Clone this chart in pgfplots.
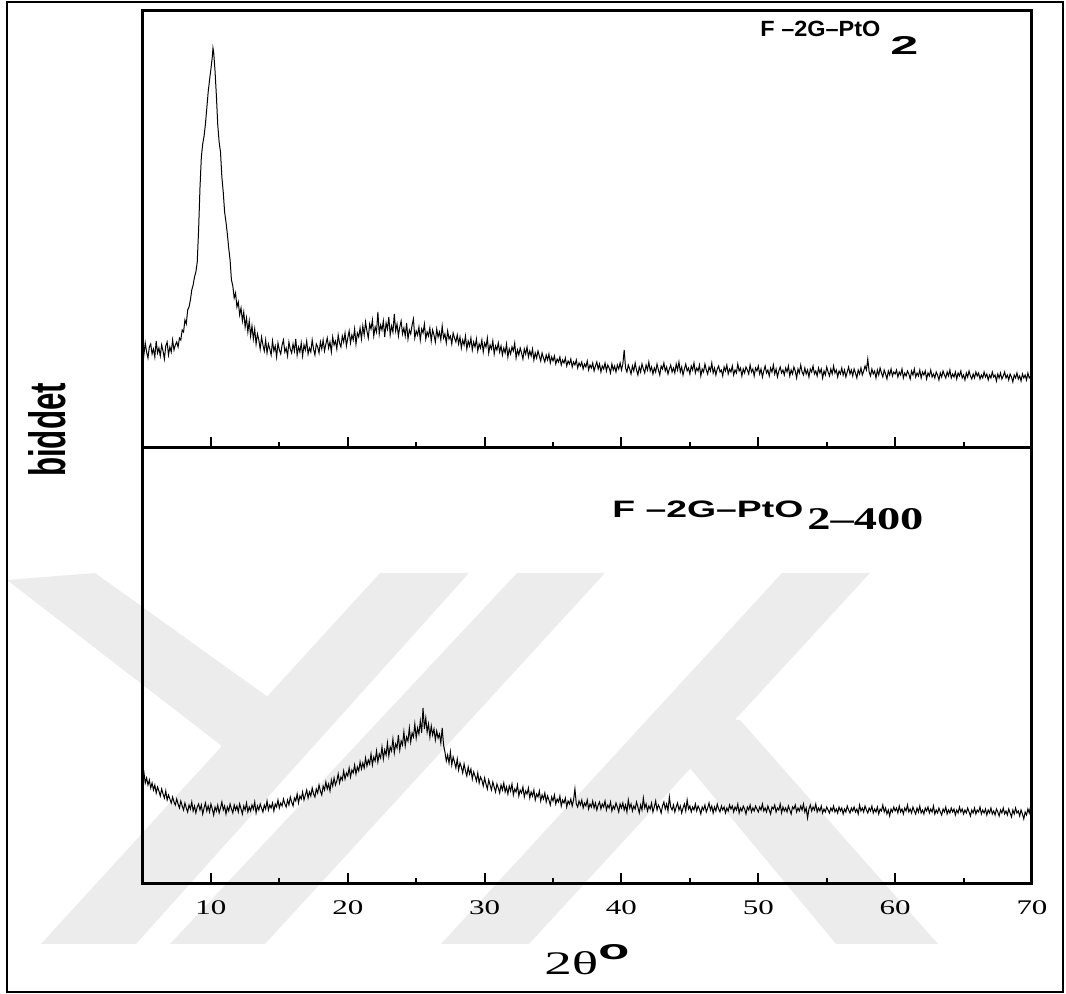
\documentclass[border=0pt]{standalone}
\usepackage{pgfplots}
\pgfplotsset{compat=1.18}
\usepackage{graphicx}
\usepackage{fontspec}
\setmainfont{Liberation Serif}
\newfontfamily\arial{Liberation Sans}
\definecolor{wm}{gray}{0.925}
\pgfplotsset{myax/.style={
  scale only axis, width=444.75pt, xmin=5, xmax=70, ymin=0,
  axis line style={line width=1.5pt},
  ytick=\empty, tick align=inside, xtick pos=bottom,
  major tick length=5.5pt, minor tick length=3pt,
  tick style={black, line width=1pt},
  minor xtick={15,25,...,65},
  /pgf/number format/assume math mode=true,
  anchor=south west}}
\begin{document}
\begin{tikzpicture}
\useasboundingbox (0,0) rectangle (533pt,497pt);
% watermark (background)
\begin{scope}[x=0.5pt,y=-0.5pt,shift={(0pt,497pt)}]
\fill[wm] (7,580) -- (95,573) -- (300,720) -- (240,760) -- cycle;
\fill[wm] (380,573) -- (469,573) -- (136,944) -- (41,944) -- cycle;
\fill[wm] (517,573) -- (605,573) -- (265,944) -- (170,944) -- cycle;
\fill[wm] (782,573) -- (870,573) -- (529,944) -- (441,944) -- cycle;
\fill[wm] (650,720) -- (740,720) -- (938,944) -- (836,944) -- cycle;
\end{scope}
\draw[line width=1pt] (3.5pt,1pt) rectangle (531.5pt,496pt);
% top panel
\begin{axis}[myax, at={(71.25pt,273pt)}, height=218.5pt, ymax=437,
  xtick={10,20,...,60}, xticklabels={}]
\addplot[black, line width=0.5pt] coordinates {
(5.0,102) (5.1,93) (5.2,105) (5.3,96) (5.4,90) (5.5,101) (5.6,104) (5.7,94) (5.8,99) (5.9,91)
(6.0,107) (6.1,95) (6.2,100) (6.3,92) (6.4,103) (6.5,97) (6.6,89) (6.7,102) (6.8,106) (6.9,93)
(7.0,101) (7.1,96) (7.2,108) (7.3,98) (7.4,103) (7.5,106) (7.6,101) (7.7,110) (7.8,108) (7.9,118)
(8.0,116) (8.1,128) (8.2,124) (8.3,138) (8.4,141) (8.5,148) (8.6,158) (8.7,163) (8.8,171) (8.9,176)
(9.0,186) (9.1,218) (9.2,260) (9.3,291) (9.4,304) (9.5,312) (9.6,324) (9.7,340) (9.8,356) (9.9,368)
(10.0,379) (10.1,391) (10.15,400) (10.2,396) (10.3,377) (10.4,352) (10.5,323) (10.6,306) (10.7,296) (10.8,271)
(10.9,256) (11.0,236) (11.1,226) (11.2,214) (11.3,200) (11.4,188) (11.5,168) (11.6,162) (11.7,150) (11.8,155)
(11.9,141) (12.0,146) (12.1,133) (12.2,140) (12.3,127) (12.4,136) (12.5,121) (12.6,130) (12.7,116) (12.8,127)
(12.9,112) (13.0,122) (13.1,109) (13.2,119) (13.3,104) (13.4,114) (13.5,108) (13.6,99) (13.7,111) (13.8,103)
(13.9,97) (14.0,108) (14.1,95) (14.2,104) (14.3,99) (14.4,93) (14.5,107) (14.6,97) (14.7,102) (14.8,91)
(14.9,105) (15.0,98) (15.1,94) (15.2,103) (15.3,108) (15.4,96) (15.5,100) (15.6,92) (15.7,106) (15.8,99)
(15.9,95) (16.0,104) (16.1,97) (16.2,109) (16.3,93) (16.4,101) (16.5,96) (16.6,105) (16.7,92) (16.8,103)
(16.9,98) (17.0,107) (17.1,94) (17.2,100) (17.3,96) (17.4,108) (17.5,99) (17.6,93) (17.7,104) (17.8,101)
(17.9,95) (18.0,106) (18.1,99) (18.2,108) (18.3,97) (18.4,104) (18.5,110) (18.6,100) (18.7,106) (18.8,96)
(18.9,111) (19.0,103) (19.1,107) (19.2,99) (19.3,113) (19.4,105) (19.5,101) (19.6,112) (19.7,106) (19.8,115)
(19.9,102) (20.0,110) (20.1,117) (20.2,105) (20.3,113) (20.4,108) (20.5,119) (20.6,104) (20.7,115) (20.8,111)
(20.9,120) (21.0,109) (21.1,122) (21.2,113) (21.3,126) (21.4,117) (21.5,110) (21.6,124) (21.7,119) (21.8,128)
(21.9,112) (22.0,121) (22.1,116) (22.2,136) (22.3,114) (22.4,123) (22.5,118) (22.6,127) (22.7,111) (22.8,125)
(22.9,119) (23.0,131) (23.1,113) (23.2,122) (23.3,116) (23.4,134) (23.5,117) (23.6,124) (23.7,112) (23.8,121)
(23.9,127) (24.0,114) (24.1,120) (24.2,112) (24.3,125) (24.4,109) (24.5,118) (24.6,114) (24.7,123) (24.8,129)
(24.9,110) (25.0,117) (25.1,113) (25.2,121) (25.3,108) (25.4,119) (25.5,115) (25.6,124) (25.7,109) (25.8,116)
(25.9,112) (26.0,120) (26.1,107) (26.2,118) (26.3,113) (26.4,106) (26.5,119) (26.6,111) (26.7,116) (26.8,108)
(26.9,122) (27.0,110) (27.1,114) (27.2,105) (27.3,117) (27.4,109) (27.5,112) (27.6,104) (27.7,115) (27.8,110)
(27.9,106) (28.0,113) (28.1,104) (28.2,111) (28.3,100) (28.4,108) (28.5,103) (28.6,112) (28.7,99) (28.8,107)
(28.9,102) (29.0,110) (29.1,98) (29.2,106) (29.3,101) (29.4,109) (29.5,97) (29.6,104) (29.7,100) (29.8,108)
(29.9,96) (30.0,105) (30.1,101) (30.2,110) (30.3,95) (30.4,103) (30.5,99) (30.6,107) (30.7,94) (30.8,102)
(30.9,98) (31.0,105) (31.1,96) (31.2,102) (31.3,93) (31.4,100) (31.5,95) (31.6,104) (31.7,91) (31.8,99)
(31.9,94) (32.0,101) (32.1,97) (32.2,105) (32.3,90) (32.4,98) (32.5,93) (32.6,100) (32.7,95) (32.8,89)
(32.9,99) (33.0,94) (33.1,101) (33.2,91) (33.3,97) (33.4,92) (33.5,99) (33.6,88) (33.7,95) (33.8,90)
(33.9,97) (34.0,92) (34.1,87) (34.2,95) (34.3,90) (34.4,86) (34.5,93) (34.6,88) (34.7,94) (34.8,85)
(34.9,91) (35.0,87) (35.1,92) (35.2,84) (35.3,89) (35.4,86) (35.5,91) (35.6,83) (35.7,88) (35.8,85)
(35.9,90) (36.0,82) (36.1,87) (36.2,84) (36.3,89) (36.4,81) (36.5,86) (36.6,83) (36.7,88) (36.8,80)
(36.9,85) (37.0,82) (37.1,86) (37.2,79) (37.3,84) (37.4,81) (37.5,87) (37.6,78) (37.7,83) (37.8,80)
(37.9,85) (38.0,77) (38.1,82) (38.2,86) (38.3,79) (38.4,84) (38.5,76) (38.6,82) (38.7,79) (38.8,85)
(38.9,77) (39.0,83) (39.1,80) (39.2,75) (39.3,84) (39.4,78) (39.5,82) (39.6,76) (39.7,83) (39.8,79)
(39.9,85) (40.0,78) (40.1,84) (40.2,98) (40.3,80) (40.4,76) (40.5,83) (40.6,79) (40.7,74) (40.8,82)
(40.9,77) (41.0,85) (41.1,78) (41.2,73) (41.3,81) (41.4,76) (41.5,84) (41.6,79) (41.7,75) (41.8,83)
(41.9,78) (42.0,86) (42.1,77) (42.2,81) (42.3,74) (42.4,80) (42.5,76) (42.6,84) (42.7,78) (42.8,73)
(42.9,82) (43.0,79) (43.1,85) (43.2,77) (43.3,81) (43.4,74) (43.5,79) (43.6,83) (43.7,76) (43.8,80)
(43.9,75) (44.0,84) (44.1,78) (44.2,86) (44.3,76) (44.4,81) (44.5,73) (44.6,79) (44.7,84) (44.8,77)
(44.9,80) (45.0,74) (45.1,82) (45.2,78) (45.3,85) (45.4,75) (45.5,80) (45.6,77) (45.7,83) (45.8,72)
(45.9,79) (46.0,76) (46.1,84) (46.2,78) (46.3,74) (46.4,81) (46.5,77) (46.6,85) (46.7,75) (46.8,80)
(46.9,73) (47.0,79) (47.1,82) (47.2,76) (47.3,78) (47.4,72) (47.5,81) (47.6,77) (47.7,83) (47.8,74)
(47.9,79) (48.0,76) (48.1,82) (48.2,73) (48.3,78) (48.4,75) (48.5,84) (48.6,77) (48.7,80) (48.8,72)
(48.9,79) (49.0,75) (49.1,81) (49.2,78) (49.3,74) (49.4,83) (49.5,76) (49.6,79) (49.7,72) (49.8,80)
(49.9,77) (50.0,82) (50.1,74) (50.2,79) (50.3,71) (50.4,77) (50.5,82) (50.6,75) (50.7,78) (50.8,72)
(50.9,80) (51.0,76) (51.1,83) (51.2,74) (51.3,79) (51.4,71) (51.5,77) (51.6,81) (51.7,75) (51.8,78)
(51.9,73) (52.0,80) (52.1,76) (52.2,82) (52.3,72) (52.4,78) (52.5,74) (52.6,81) (52.7,77) (52.8,70)
(52.9,79) (53.0,75) (53.1,83) (53.2,76) (53.3,73) (53.4,80) (53.5,74) (53.6,78) (53.7,71) (53.8,79)
(53.9,76) (54.0,82) (54.1,74) (54.2,77) (54.3,72) (54.4,80) (54.5,75) (54.6,79) (54.7,70) (54.8,77)
(54.9,73) (55.0,81) (55.1,76) (55.2,72) (55.3,79) (55.4,74) (55.5,82) (55.6,75) (55.7,78) (55.8,71)
(55.9,77) (56.0,74) (56.1,80) (56.2,73) (56.3,78) (56.4,71) (56.5,76) (56.6,81) (56.7,74) (56.8,78)
(56.9,72) (57.0,79) (57.1,75) (57.2,70) (57.3,78) (57.4,74) (57.5,80) (57.6,73) (57.7,77) (57.8,82)
(57.9,78) (58.0,89) (58.1,76) (58.2,72) (58.3,79) (58.4,74) (58.5,77) (58.6,70) (58.7,78) (58.8,73)
(58.9,80) (59.0,75) (59.1,71) (59.2,78) (59.3,74) (59.4,69) (59.5,77) (59.6,73) (59.7,79) (59.8,72)
(59.9,76) (60.0,74) (60.1,78) (60.2,71) (60.3,76) (60.4,73) (60.5,79) (60.6,70) (60.7,75) (60.8,72)
(60.9,77) (61.0,74) (61.1,69) (61.2,77) (61.3,73) (61.4,79) (61.5,71) (61.6,75) (61.7,72) (61.8,78)
(61.9,70) (62.0,76) (62.1,73) (62.2,77) (62.3,69) (62.4,75) (62.5,72) (62.6,78) (62.7,71) (62.8,74)
(62.9,70) (63.0,76) (63.1,73) (63.2,68) (63.3,75) (63.4,71) (63.5,77) (63.6,73) (63.7,70) (63.8,76)
(63.9,72) (64.0,78) (64.1,70) (64.2,74) (64.3,71) (64.4,76) (64.5,69) (64.6,75) (64.7,72) (64.8,77)
(64.9,70) (65.0,73) (65.1,68) (65.2,75) (65.3,71) (65.4,77) (65.5,72) (65.6,69) (65.7,74) (65.8,70)
(65.9,76) (66.0,72) (66.1,75) (66.2,69) (66.3,73) (66.4,70) (66.5,76) (66.6,71) (66.7,74) (66.8,68)
(66.9,73) (67.0,70) (67.1,76) (67.2,71) (67.3,73) (67.4,67) (67.5,74) (67.6,70) (67.7,75) (67.8,69)
(67.9,72) (68.0,76) (68.1,70) (68.2,73) (68.3,68) (68.4,74) (68.5,71) (68.6,66) (68.7,73) (68.8,70)
(68.9,75) (69.0,69) (69.1,72) (69.2,67) (69.3,74) (69.4,70) (69.5,73) (69.6,68) (69.7,75) (69.8,70)
(69.9,72) (70.0,74)
};
\end{axis}
% bottom panel
\begin{axis}[myax, at={(71.25pt,55pt)}, height=218pt, ymax=436,
  xtick={10,20,...,70},
  xticklabel={\scalebox{1.49}[1]{\pgfmathprintnumber{\tick}}},
  xticklabel style={font=\fontsize{10.4pt}{12pt}\selectfont, anchor=base, inner sep=0pt, yshift=-15.5pt}]
\addplot[black, line width=0.5pt] coordinates {
(5.0,108) (5.1,112) (5.2,101) (5.3,106) (5.4,99) (5.5,104) (5.6,96) (5.7,101) (5.8,94) (5.9,99)
(6.0,91) (6.1,97) (6.2,93) (6.3,88) (6.4,95) (6.5,90) (6.6,86) (6.7,93) (6.8,84) (6.9,89)
(7.0,85) (7.1,81) (7.2,87) (7.3,82) (7.4,79) (7.5,85) (7.6,80) (7.7,76) (7.8,83) (7.9,78)
(8.0,74) (8.1,81) (8.2,76) (8.3,72) (8.4,79) (8.5,75) (8.6,82) (8.7,73) (8.8,78) (8.9,71)
(9.0,77) (9.1,80) (9.2,74) (9.3,79) (9.4,70) (9.5,76) (9.6,81) (9.7,73) (9.8,78) (9.9,72)
(10.0,80) (10.1,75) (10.2,69) (10.3,77) (10.4,73) (10.5,79) (10.6,71) (10.7,76) (10.8,82) (10.9,74)
(11.0,78) (11.1,70) (11.2,77) (11.3,73) (11.4,80) (11.5,75) (11.6,71) (11.7,79) (11.8,74) (11.9,78)
(12.0,72) (12.1,80) (12.2,75) (12.3,70) (12.4,78) (12.5,74) (12.6,81) (12.7,72) (12.8,77) (12.9,73)
(13.0,79) (13.1,75) (13.2,82) (13.3,71) (13.4,78) (13.5,74) (13.6,80) (13.7,76) (13.8,72) (13.9,79)
(14.0,75) (14.1,83) (14.2,74) (14.3,79) (14.4,76) (14.5,81) (14.6,73) (14.7,80) (14.8,77) (14.9,84)
(15.0,76) (15.1,81) (15.2,78) (15.3,85) (15.4,80) (15.5,77) (15.6,84) (15.7,79) (15.8,87) (15.9,82)
(16.0,78) (16.1,86) (16.2,83) (16.3,90) (16.4,81) (16.5,88) (16.6,85) (16.7,92) (16.8,84) (16.9,89)
(17.0,94) (17.1,86) (17.2,92) (17.3,88) (17.4,96) (17.5,90) (17.6,87) (17.7,95) (17.8,91) (17.9,99)
(18.0,93) (18.1,89) (18.2,98) (18.3,94) (18.4,102) (18.5,95) (18.6,100) (18.7,93) (18.8,104) (18.9,98)
(19.0,106) (19.1,99) (19.2,103) (19.3,110) (19.4,101) (19.5,107) (19.6,104) (19.7,113) (19.8,105) (19.9,111)
(20.0,108) (20.1,116) (20.2,107) (20.3,114) (20.4,111) (20.5,119) (20.6,110) (20.7,117) (20.8,113) (20.9,122)
(21.0,115) (21.1,121) (21.2,116) (21.3,126) (21.4,118) (21.5,124) (21.6,120) (21.7,130) (21.8,119) (21.9,127)
(22.0,123) (22.1,133) (22.2,122) (22.3,130) (22.4,126) (22.5,137) (22.6,125) (22.7,134) (22.8,129) (22.9,141)
(23.0,128) (23.1,137) (23.2,133) (23.3,145) (23.4,131) (23.5,140) (23.6,136) (23.7,149) (23.8,134) (23.9,143)
(24.0,139) (24.1,152) (24.2,138) (24.3,147) (24.4,143) (24.5,156) (24.6,142) (24.7,151) (24.8,147) (24.9,160)
(25.0,146) (25.1,156) (25.2,150) (25.3,163) (25.4,151) (25.5,176) (25.6,155) (25.7,166) (25.8,152) (25.9,160)
(26.0,147) (26.1,158) (26.2,149) (26.3,155) (26.4,144) (26.5,153) (26.6,146) (26.7,150) (26.8,141) (26.9,156)
(27.0,139) (27.1,132) (27.2,123) (27.3,129) (27.4,121) (27.5,132) (27.6,119) (27.7,127) (27.8,122) (27.9,116)
(28.0,125) (28.1,114) (28.2,121) (28.3,117) (28.4,111) (28.5,120) (28.6,113) (28.7,108) (28.8,117) (28.9,110)
(29.0,115) (29.1,105) (29.2,112) (29.3,108) (29.4,103) (29.5,111) (29.6,101) (29.7,107) (29.8,104) (29.9,98)
(30.0,106) (30.1,100) (30.2,95) (30.3,104) (30.4,99) (30.5,94) (30.6,102) (30.7,97) (30.8,92) (30.9,100)
(31.0,96) (31.1,91) (31.2,99) (31.3,94) (31.4,101) (31.5,92) (31.6,97) (31.7,90) (31.8,98) (31.9,93)
(32.0,100) (32.1,89) (32.2,95) (32.3,92) (32.4,99) (32.5,88) (32.6,94) (32.7,91) (32.8,97) (32.9,87)
(33.0,93) (33.1,90) (33.2,96) (33.3,86) (33.4,92) (33.5,88) (33.6,94) (33.7,84) (33.8,90) (33.9,87)
(34.0,93) (34.1,83) (34.2,89) (34.3,85) (34.4,91) (34.5,82) (34.6,88) (34.7,84) (34.8,79) (34.9,87)
(35.0,83) (35.1,89) (35.2,80) (35.3,85) (35.4,82) (35.5,88) (35.6,78) (35.7,84) (35.8,81) (35.9,86)
(36.0,77) (36.1,83) (36.2,80) (36.3,85) (36.4,78) (36.5,84) (36.6,95) (36.7,80) (36.8,77) (36.9,83)
(37.0,79) (37.1,84) (37.2,76) (37.3,81) (37.4,78) (37.5,84) (37.6,75) (37.7,80) (37.8,77) (37.9,83)
(38.0,76) (38.1,81) (38.2,74) (38.3,79) (38.4,82) (38.5,75) (38.6,80) (38.7,77) (38.8,83) (38.9,74)
(39.0,79) (39.1,76) (39.2,82) (39.3,73) (39.4,78) (39.5,75) (39.6,81) (39.7,77) (39.8,72) (39.9,80)
(40.0,76) (40.1,81) (40.2,74) (40.3,79) (40.4,72) (40.5,84) (40.6,76) (40.7,80) (40.8,73) (40.9,78)
(41.0,75) (41.1,82) (41.2,77) (41.3,71) (41.4,79) (41.5,74) (41.6,86) (41.7,76) (41.8,80) (41.9,73)
(42.0,78) (42.1,75) (42.2,81) (42.3,72) (42.4,77) (42.5,83) (42.6,74) (42.7,79) (42.8,76) (42.9,71)
(43.0,78) (43.1,82) (43.2,75) (43.3,80) (43.4,73) (43.5,87) (43.6,77) (43.7,74) (43.8,79) (43.9,72)
(44.0,77) (44.1,81) (44.2,74) (44.3,78) (44.4,71) (44.5,76) (44.6,80) (44.7,73) (44.8,84) (44.9,75)
(45.0,78) (45.1,72) (45.2,77) (45.3,74) (45.4,80) (45.5,73) (45.6,78) (45.7,75) (45.8,70) (45.9,77)
(46.0,74) (46.1,79) (46.2,72) (46.3,76) (46.4,81) (46.5,74) (46.6,78) (46.7,71) (46.8,77) (46.9,73)
(47.0,80) (47.1,75) (47.2,72) (47.3,78) (47.4,74) (47.5,77) (47.6,71) (47.7,76) (47.8,73) (47.9,79)
(48.0,75) (48.1,78) (48.2,72) (48.3,77) (48.4,74) (48.5,80) (48.6,71) (48.7,76) (48.8,73) (48.9,78)
(49.0,75) (49.1,70) (49.2,77) (49.3,74) (49.4,79) (49.5,72) (49.6,76) (49.7,73) (49.8,78) (49.9,75)
(50.0,72) (50.1,77) (50.2,74) (50.3,80) (50.4,73) (50.5,76) (50.6,72) (50.7,78) (50.8,74) (50.9,70)
(51.0,77) (51.1,75) (51.2,79) (51.3,72) (51.4,76) (51.5,74) (51.6,80) (51.7,71) (51.8,77) (51.9,73)
(52.0,76) (52.1,72) (52.2,78) (52.3,74) (52.4,70) (52.5,77) (52.6,75) (52.7,79) (52.8,72) (52.9,76)
(53.0,73) (53.1,78) (53.2,74) (53.3,80) (53.4,72) (53.5,76) (53.6,66) (53.7,75) (53.8,79) (53.9,73)
(54.0,77) (54.1,74) (54.2,80) (54.3,72) (54.4,76) (54.5,73) (54.6,78) (54.7,71) (54.8,75) (54.9,72)
(55.0,77) (55.1,74) (55.2,71) (55.3,76) (55.4,73) (55.5,78) (55.6,72) (55.7,75) (55.8,71) (55.9,77)
(56.0,73) (56.1,76) (56.2,70) (56.3,75) (56.4,72) (56.5,78) (56.6,74) (56.7,71) (56.8,76) (56.9,73)
(57.0,77) (57.1,72) (57.2,75) (57.3,70) (57.4,79) (57.5,73) (57.6,76) (57.7,72) (57.8,78) (57.9,74)
(58.0,71) (58.1,76) (58.2,73) (58.3,78) (58.4,71) (58.5,75) (58.6,72) (58.7,77) (58.8,70) (58.9,75)
(59.0,73) (59.1,79) (59.2,72) (59.3,76) (59.4,70) (59.5,74) (59.6,68) (59.7,75) (59.8,72) (59.9,77)
(60.0,73) (60.1,76) (60.2,71) (60.3,78) (60.4,72) (60.5,75) (60.6,70) (60.7,76) (60.8,73) (60.9,79)
(61.0,72) (61.1,75) (61.2,71) (61.3,77) (61.4,73) (61.5,70) (61.6,76) (61.7,72) (61.8,78) (61.9,71)
(62.0,74) (62.1,70) (62.2,76) (62.3,73) (62.4,77) (62.5,71) (62.6,75) (62.7,72) (62.8,78) (62.9,70)
(63.0,74) (63.1,71) (63.2,76) (63.3,72) (63.4,69) (63.5,75) (63.6,72) (63.7,77) (63.8,70) (63.9,74)
(64.0,71) (64.1,76) (64.2,72) (64.3,75) (64.4,69) (64.5,74) (64.6,71) (64.7,77) (64.8,72) (64.9,75)
(65.0,70) (65.1,74) (65.2,71) (65.3,76) (65.4,72) (65.5,68) (65.6,74) (65.7,71) (65.8,76) (65.9,70)
(66.0,74) (66.1,72) (66.2,77) (66.3,70) (66.4,74) (66.5,71) (66.6,75) (66.7,69) (66.8,74) (66.9,71)
(67.0,76) (67.1,70) (67.2,73) (67.3,69) (67.4,75) (67.5,72) (67.6,68) (67.7,74) (67.8,71) (67.9,76)
(68.0,70) (68.1,73) (68.2,69) (68.3,75) (68.4,71) (68.5,67) (68.6,74) (68.7,70) (68.8,76) (68.9,71)
(69.0,73) (69.1,68) (69.2,74) (69.3,70) (69.4,65) (69.5,72) (69.6,69) (69.7,75) (69.8,71) (69.9,78)
(70.0,73)
};
\end{axis}
% labels
\node[anchor=base west, inner sep=0pt] at (380pt,478.5pt) {\resizebox{60pt}{7.7pt}{\arial\bfseries F –2G–PtO}};
\node[anchor=base west, inner sep=0pt] at (445pt,469.5pt) {\resizebox{14pt}{9pt}{\arial\bfseries 2}};
\node[anchor=base west, inner sep=0pt] at (306pt,238pt) {\resizebox{95.5pt}{8.3pt}{\arial\bfseries F –2G–PtO}};
\node[anchor=base west, inner sep=0pt] at (403.5pt,232pt) {\resizebox{58pt}{10.5pt}{\bfseries 2–400}};
\node[rotate=90, inner sep=0pt] at (23.5pt,282pt) {\resizebox{47pt}{18.5pt}{\arial\bfseries biddet}};
\node[anchor=base west, inner sep=0pt] at (272pt,9.5pt) {\resizebox{27pt}{11.5pt}{2θ}};
\node[anchor=base west, inner sep=0pt] at (299pt,17pt) {\resizebox{15.5pt}{7.5pt}{\arial\bfseries o}};
\end{tikzpicture}
\end{document}
